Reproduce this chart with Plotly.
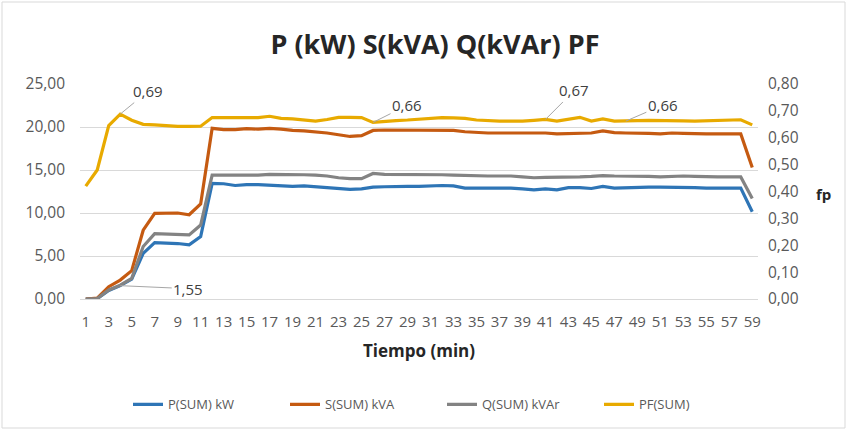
import plotly.graph_objects as go

minutes = list(range(1, 60))

p_kw = [0.0, 0.05, 1.0, 1.55, 2.3, 5.3, 6.55, 6.5, 6.45, 6.3, 7.25, 13.45, 13.4, 13.2, 13.3, 13.3, 13.25, 13.15, 13.1, 13.15,
        13.05, 13.0, 12.85, 12.75, 12.8, 13.0, 13.05, 13.1, 13.1, 13.1, 13.15, 13.2, 13.15, 12.9, 12.9, 12.9, 12.9, 12.9, 12.8, 12.7,
        12.8, 12.7, 12.95, 12.95, 12.85, 13.1, 12.9, 12.95, 12.95, 13.0, 13.0, 13.0, 13.0, 12.95, 12.9, 12.9, 12.9, 12.9, 10.15]

s_kva = [0.0, 0.1, 1.43, 2.2, 3.3, 8.0, 9.96, 10.0, 10.0, 9.8, 11.05, 19.85, 19.7, 19.7, 19.8, 19.75, 19.85, 19.75, 19.6, 19.55,
         19.45, 19.3, 19.1, 18.9, 19.0, 19.6, 19.65, 19.65, 19.65, 19.65, 19.65, 19.65, 19.6, 19.45, 19.35, 19.3, 19.3, 19.3, 19.3, 19.25,
         19.3, 19.2, 19.25, 19.25, 19.3, 19.55, 19.35, 19.3, 19.3, 19.25, 19.2, 19.3, 19.25, 19.2, 19.2, 19.2, 19.2, 19.2, 15.3]

q_kvar = [0.0, 0.05, 1.05, 1.6, 2.4, 6.1, 7.6, 7.55, 7.45, 7.45, 8.6, 14.4, 14.4, 14.4, 14.4, 14.4, 14.5, 14.5, 14.5, 14.45,
          14.4, 14.3, 14.1, 14.0, 14.0, 14.6, 14.5, 14.5, 14.45, 14.45, 14.45, 14.45, 14.4, 14.35, 14.3, 14.3, 14.3, 14.3, 14.2, 14.1,
          14.15, 14.15, 14.2, 14.2, 14.25, 14.35, 14.3, 14.3, 14.3, 14.25, 14.2, 14.25, 14.3, 14.25, 14.2, 14.2, 14.2, 14.2, 11.7]

pf = [0.42, 0.48, 0.645, 0.688, 0.665, 0.65, 0.648, 0.645, 0.642, 0.642, 0.643, 0.675, 0.675, 0.675, 0.675, 0.675, 0.68, 0.672, 0.67, 0.665,
      0.662, 0.668, 0.676, 0.676, 0.675, 0.657, 0.662, 0.664, 0.666, 0.669, 0.672, 0.675, 0.674, 0.672, 0.666, 0.663, 0.662, 0.662, 0.662, 0.665,
      0.668, 0.662, 0.668, 0.676, 0.662, 0.67, 0.662, 0.662, 0.664, 0.665, 0.665, 0.664, 0.663, 0.662, 0.663, 0.665, 0.664, 0.667, 0.648]

left_ticks = [0, 5, 10, 15, 20, 25]
right_ticks = [0.0, 0.1, 0.2, 0.3, 0.4, 0.5, 0.6, 0.7, 0.8]

FONT = "Open Sans"
TXT = "#595959"

fig = go.Figure()
fig.add_trace(go.Scatter(x=minutes, y=p_kw, name="P(SUM) kW", mode="lines",
                         line=dict(color="#2E75B6", width=3.2)))
fig.add_trace(go.Scatter(x=minutes, y=s_kva, name="S(SUM) kVA", mode="lines",
                         line=dict(color="#C55A11", width=3.2)))
fig.add_trace(go.Scatter(x=minutes, y=q_kvar, name="Q(SUM) kVAr", mode="lines",
                         line=dict(color="#838383", width=3.2)))
fig.add_trace(go.Scatter(x=minutes, y=pf, name="PF(SUM)", mode="lines", yaxis="y2",
                         line=dict(color="#E8AA00", width=3.2)))

ann_font = dict(family=FONT, size=15, color="#404040")
labels = [
    dict(x=4, y=pf[3], yref="y2", text="0,69", ax=28, ay=-23),
    dict(x=4, y=p_kw[3], yref="y", text="1,55", ax=68, ay=3),
    dict(x=26, y=pf[25], yref="y2", text="0,66", ax=34, ay=-17),
    dict(x=41, y=pf[40], yref="y2", text="0,67", ax=29, ay=-29),
    dict(x=48, y=pf[47], yref="y2", text="0,66", ax=37, ay=-16),
]
annotations = []
for a in labels:
    annotations.append(dict(xref="x", showarrow=True, arrowhead=0, arrowwidth=1,
                            arrowcolor="#A6A6A6", font=ann_font, **a))
annotations.append(dict(xref="paper", yref="paper", x=(814 - 80) / 678, y=(299 - 194) / 215, text="<b>fp</b>",
                        showarrow=False, font=dict(family=FONT, size=15, color="#262626"),
                        xanchor="left", yanchor="middle"))

fig.update_layout(
    width=847, height=430,
    separators=", ",
    paper_bgcolor="white", plot_bgcolor="white",
    margin=dict(l=80, r=89, t=84, b=131, autoexpand=False),
    title=dict(text="<b>P (kW) S(kVA) Q(kVAr) PF</b>", x=(435) / 847, xanchor="center",
               y=1 - 45 / 430, yanchor="middle",
               font=dict(family=FONT, size=27, color="#262626")),
    font=dict(family=FONT, size=14, color=TXT),
    xaxis=dict(range=[0.5, 59.5], tickmode="array", tickvals=minutes[::2],
               ticktext=[str(m) for m in minutes[::2]], showgrid=False, zeroline=False,
               showline=True, linecolor="#D9D9D9", ticks="", ticklabelstandoff=9,
               title=dict(text="<b>Tiempo (min)</b>", font=dict(size=17, color="#262626"), standoff=15),
               tickfont=dict(size=15, color=TXT)),
    yaxis=dict(range=[0, 25], tickvals=left_ticks, tickformat=".2f", showgrid=True,
               gridcolor="#D9D9D9", gridwidth=1, zeroline=False, ticks="", ticklabelstandoff=14,
               tickfont=dict(size=15.5, color=TXT)),
    yaxis2=dict(range=[0, 0.8], tickvals=right_ticks, tickformat=".2f", overlaying="y",
                side="right", showgrid=False, zeroline=False, ticks="", ticklabelstandoff=9,
                tickfont=dict(size=15.5, color=TXT)),
    legend=dict(orientation="h", x=(128 - 80) / 678, xanchor="left", y=-0.49, yanchor="middle",
                font=dict(size=13, color=TXT), itemwidth=30, traceorder="normal",
                entrywidth=112, entrywidthmode="pixels"),
    annotations=annotations,
    shapes=[dict(type="rect", xref="paper", yref="paper",
                 x0=(2 - 80) / 678, x1=(845 - 80) / 678, y0=(299 - 428) / 215, y1=(299 - 2) / 215,
                 line=dict(color="#D9D9D9", width=1), fillcolor="rgba(0,0,0,0)", layer="below")],
)

fig.write_html("out.html", config={"displayModeBar": False},
               post_script="document.body.style.margin='0';")
